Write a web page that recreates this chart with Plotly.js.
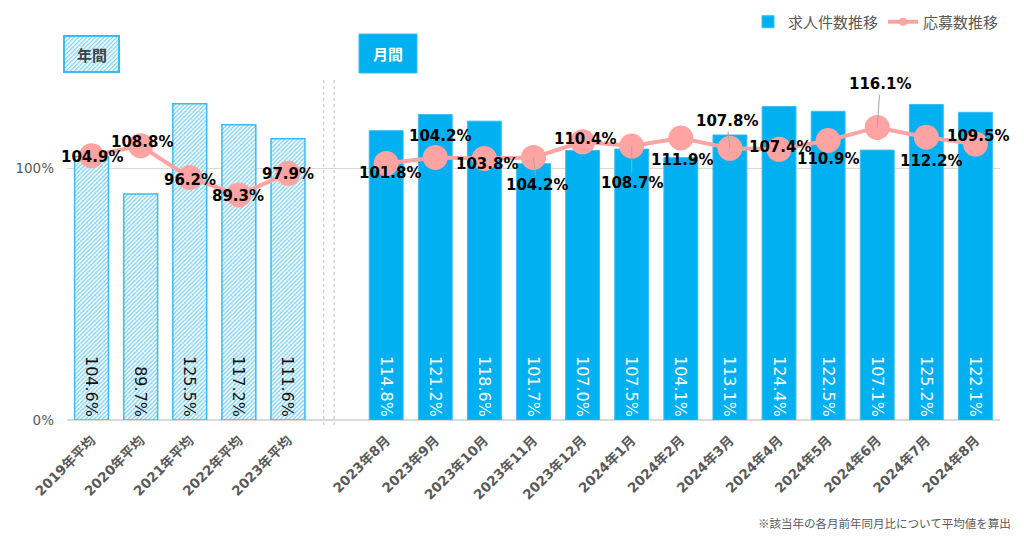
<!DOCTYPE html>
<html><head><meta charset="utf-8">
<script src="https://cdn.plot.ly/plotly-3.0.1.min.js"></script>
<style>html,body{margin:0;padding:0;background:#fff}#chart{width:1024px;height:539px}</style>
</head><body><div id="chart"></div>
<script>
// ---- data ----
const yearLabels = ['2019年平均','2020年平均','2021年平均','2022年平均','2023年平均'];
const yearJobs = [104.6, 89.7, 125.5, 117.2, 111.6];
const yearApplicants = [104.9, 108.8, 96.2, 89.3, 97.9];
const monthLabels = ['2023年8月','2023年9月','2023年10月','2023年11月','2023年12月','2024年1月','2024年2月','2024年3月','2024年4月','2024年5月','2024年6月','2024年7月','2024年8月'];
const monthJobs = [114.8, 121.2, 118.6, 101.7, 107.0, 107.5, 104.1, 113.1, 124.4, 122.5, 107.1, 125.2, 122.1];
const monthApplicants = [101.8, 104.2, 103.8, 104.2, 110.4, 108.7, 111.9, 107.8, 107.4, 110.9, 116.1, 112.2, 109.5];
const yTickVals = [0, 100];
const yTickText = ['0%', '100%'];
const seriesNames = ['求人件数推移', '応募数推移'];
const sectionTitles = ['年間', '月間'];
const footnote = '※該当年の各月前年同月比について平均値を算出';

// ---- layout helpers (positions / styles) ----
const labelOffsets = [[0,1],[1,-4],[0,2],[-1,1],[0,1],
  [4,10],[5,-21],[3,6],[3,28],[2,-3],[0,37],[1,22],[-3,-27],[1,-2],[0,18],[3,-43],[5,24],[3,-8]];
const leaderLabels = [8, 10, 12, 15];

const monthStart = yearLabels.length + 1;
const yearX = yearLabels.map((_, i) => i);
const monthX = monthLabels.map((_, i) => monthStart + i);
const allX = yearX.concat([yearLabels.length], monthX);
const allTickText = yearLabels.concat([''], monthLabels);
const lineY = yearApplicants.concat([null], monthApplicants);
const pct = v => v.toFixed(1) + '%';

const blue = '#00b0f0';
const pink = '#ffa3a3';
const numFont = 'DejaVu Sans, Noto Sans CJK JP, sans-serif';
const jpFont = 'Noto Sans CJK JP, DejaVu Sans, sans-serif';

const traces = [
  {type:'bar', x: monthX, y: monthJobs, name: seriesNames[0], width: 0.69,
   marker:{color: blue, line:{color:'#3cbcee', width:1}},
   text: monthJobs.map(pct), textposition:'inside', insidetextanchor:'start', textangle:90,
   textfont:{family:numFont, size:16, color:'#ffffff'}, constraintext:'none', hoverinfo:'skip', showlegend:true},
  {type:'bar', x: yearX, y: yearJobs, name: seriesNames[0], width: 0.69, showlegend:false,
   marker:{color:'#ffffff', line:{color:'#3cbcee', width:1.5},
     pattern:{shape:'/', fgcolor:'#7dd2f3', bgcolor:'#ffffff', size:3, solidity:0.45}},
   text: yearJobs.map(pct), textposition:'inside', insidetextanchor:'start', textangle:90,
   textfont:{family:numFont, size:16, color:'#111111'}, constraintext:'none', hoverinfo:'skip'},
  {type:'scatter', mode:'lines+markers', x: allX, y: lineY, name: seriesNames[1], showlegend:false,
   connectgaps:false, line:{color: pink, width:4}, marker:{color: pink, size:25}, hoverinfo:'skip'},
  {type:'scatter', mode:'lines+markers', x:[null], y:[null], name: seriesNames[1], showlegend:true,
   line:{color: pink, width:4}, marker:{color: pink, size:8}}
];

const annotations = [];
const lineVals = yearApplicants.concat(monthApplicants);
const lineXs = yearX.concat(monthX);
lineVals.forEach((v, i) => {
  const lead = leaderLabels.includes(i);
  annotations.push({x: lineXs[i], y: v, xref:'x', yref:'y', text: pct(v),
    showarrow:true, arrowhead:0, arrowwidth:1, standoff:0,
    arrowcolor: lead ? '#a6a6a6' : 'rgba(0,0,0,0)',
    ax: labelOffsets[i][0], ay: labelOffsets[i][1],
    font:{family:numFont, size:15, color:'#000000', weight:'bold'}});
});
// section titles
annotations.push({xref:'paper', yref:'paper', x:(91.5-67)/933, y:(420-54)/360, xanchor:'center', yanchor:'middle',
  text: sectionTitles[0], showarrow:false, font:{family:jpFont, size:15, color:'#404040', weight:'bold'}});
annotations.push({xref:'paper', yref:'paper', x:(388-67)/933, y:(420-53.5)/360, xanchor:'center', yanchor:'middle',
  text: sectionTitles[1], showarrow:false, font:{family:jpFont, size:15, color:'#ffffff', weight:'bold'}});
annotations.push({xref:'paper', yref:'paper', x:(1013-67)/933, y:(420-523)/360, xanchor:'right', yanchor:'middle',
  text: footnote, showarrow:false, font:{family:jpFont, size:11.5, color:'#595959'}});

const hatchSvg = "<svg xmlns='http://www.w3.org/2000/svg' width='57' height='38'><defs><pattern id='p' width='3' height='3' patternUnits='userSpaceOnUse' patternTransform='rotate(45)'><rect width='3' height='3' fill='white'/><rect width='1.3' height='3' fill='#7dd2f3'/></pattern></defs><rect x='1' y='1' width='55' height='36' fill='url(#p)' stroke='#3cbcee' stroke-width='2'/></svg>";

const layout = {
  width:1024, height:539,
  margin:{l:67, r:24, t:60, b:119, autoexpand:false},
  paper_bgcolor:'#ffffff', plot_bgcolor:'#ffffff',
  barmode:'overlay',
  showlegend:true,
  legend:{orientation:'h', xref:'container', yref:'container', x:1 - 20/1024, xanchor:'right', y:1 - 22/539, yanchor:'middle',
    font:{family:jpFont, size:15, color:'#595959'}, itemwidth:30, bgcolor:'rgba(0,0,0,0)'},
  xaxis:{type:'linear', range:[-0.5, allX.length - 0.5], tickvals: allX, ticktext: allTickText,
    tickangle:-45, showgrid:false, zeroline:false, showline:false, ticks:'', automargin:false, ticklabelstandoff:9,
    tickfont:{family:numFont, size:13.5, color:'#595959', weight:'bold'}, fixedrange:true},
  yaxis:{range:[0, 360/2.52], tickvals: yTickVals, ticktext: yTickText, showgrid:true, automargin:false,
    gridcolor:'#d9d9d9', gridwidth:1, zeroline:true, zerolinecolor:'#d9d9d9', zerolinewidth:2,
    showline:false, ticks:'', ticklabelstandoff:12,
    tickfont:{family:numFont, size:13.5, color:'#595959'}, fixedrange:true},
  shapes:[
    {type:'line', xref:'x', yref:'paper', x0:4.73, x1:4.73, y0:-0.014, y1:0.95, line:{color:'#bfbfbf', width:1, dash:'dot'}},
    {type:'line', xref:'x', yref:'paper', x0:4.94, x1:4.94, y0:-0.014, y1:0.95, line:{color:'#bfbfbf', width:1, dash:'dot'}},
    {type:'rect', xref:'paper', yref:'paper', x0:(359-67)/933, x1:(417-67)/933, y0:(420-73)/360, y1:(420-34)/360,
      fillcolor: blue, line:{color:'#3cbcee', width:1}}
  ],
  images:[{source:'data:image/svg+xml;charset=utf-8,' + encodeURIComponent(hatchSvg),
    xref:'paper', yref:'paper', x:(63-67)/933, y:(420-35)/360, sizex:57/933, sizey:38/360,
    xanchor:'left', yanchor:'top', sizing:'stretch', layer:'above'}],
  annotations: annotations
};

Plotly.newPlot('chart', traces, layout, {displayModeBar:false, staticPlot:true});
</script></body></html>
